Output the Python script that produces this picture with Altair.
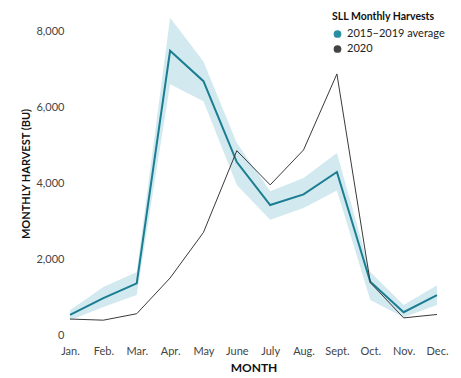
import altair as alt
import pandas as pd

months = ["Jan.", "Feb.", "Mar.", "Apr.", "May", "June", "July", "Aug.", "Sept.", "Oct.", "Nov.", "Dec."]
avg_vals = [530, 970, 1360, 7480, 6680, 4550, 3420, 3700, 4290, 1400, 600, 1050]
avg_low = [390, 740, 1050, 6600, 6150, 3950, 3030, 3340, 3800, 920, 470, 790]
avg_high = [650, 1260, 1660, 8350, 7200, 5050, 3780, 4130, 4790, 1660, 790, 1310]
y2020 = [420, 390, 560, 1500, 2700, 4850, 3950, 4870, 6870, 1380, 450, 540]

series_names = ["2015\u20132019 average", "2020"]
series_colors = ["#1a7d91", "#3a3a3a"]
legend_colors = ["#2a8ea3", "#444444"]

band_df = pd.DataFrame({"month": months, "low": avg_low, "high": avg_high})
line_df = pd.DataFrame({
    "month": months * 2,
    "value": avg_vals + y2020,
    "series": [series_names[0]] * 12 + [series_names[1]] * 12,
})

font = "Lato"
xenc = alt.X("month:O", sort=months, scale=alt.Scale(padding=0),
             axis=alt.Axis(title="MONTH", labelAngle=0, domain=False, ticks=False,
                           labelPadding=10, titlePadding=6, titleFontSize=12))
yscale = alt.Scale(domain=[0, 8500], nice=False)
yaxis = alt.Axis(title="MONTHLY HARVEST (BU)", values=[0, 2000, 4000, 6000, 8000],
                 format=",.0f", domain=False, ticks=False, grid=False,
                 labelPadding=6, titlePadding=4, titleFontSize=11)

band = alt.Chart(band_df).mark_area(color="#d2e9ef", opacity=1).encode(
    x=xenc,
    y=alt.Y("low:Q", scale=yscale, axis=yaxis),
    y2="high:Q",
)

lines = alt.Chart(line_df).mark_line().encode(
    x=xenc,
    y=alt.Y("value:Q", scale=yscale, axis=yaxis),
    color=alt.Color("series:N", scale=alt.Scale(domain=series_names, range=series_colors), legend=None),
    strokeWidth=alt.StrokeWidth("series:N", scale=alt.Scale(domain=series_names, range=[2, 1]), legend=None),
)

legend_pts = alt.Chart(line_df).transform_filter("datum.value < 0").mark_point(filled=True, opacity=1).encode(
    x=xenc,
    y=alt.Y("value:Q", scale=yscale, axis=yaxis),
    fill=alt.Fill("series:N", scale=alt.Scale(domain=series_names, range=legend_colors),
                  legend=alt.Legend(title="SLL Monthly Harvests", orient="none",
                                    legendX=262, legendY=0, symbolType="circle",
                                    symbolSize=60, symbolStrokeWidth=0,
                                    titleFontSize=10.5, labelFontSize=11,
                                    titleFont=font, labelFont=font,
                                    titleFontWeight="bold", titleColor="#111",
                                    labelColor="#222", rowPadding=3, titlePadding=6)),
)

chart = alt.layer(band, lines, legend_pts).resolve_scale(color="independent", fill="independent").properties(
    width=367, height=323,
    autosize=alt.AutoSizeParams(type="none"),
    padding={"left": 62, "top": 4, "right": 16, "bottom": 40},
).configure_view(stroke=None).configure_axis(
    grid=False, labelFont=font, titleFont=font, labelFontSize=11, labelColor="#444",
    titleFontWeight="bold", titleColor="#111"
)

chart.save("out.html", embed_options={"renderer": "svg", "actions": False})
